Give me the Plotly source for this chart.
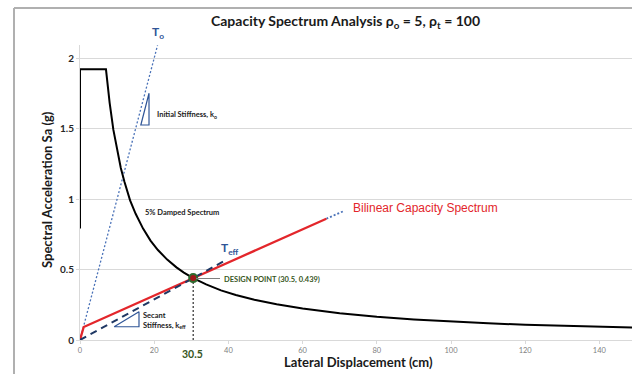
import plotly.graph_objects as go

# ---------------- data ----------------
spec_x = [0, 0, 7.0, 8, 9, 10, 11, 12, 13.5, 15, 17, 19, 21, 23.5, 26, 28, 30.5, 34, 38, 42,
          47, 53, 60, 70, 80, 90, 100, 110, 120, 130, 140, 150]
spec_y = [0.79, 1.92, 1.92, 1.68, 1.49, 1.34, 1.22, 1.12, 0.99, 0.895, 0.79, 0.705, 0.638, 0.57,
          0.515, 0.478, 0.439, 0.394, 0.352, 0.319, 0.285, 0.253, 0.224, 0.19, 0.165, 0.146,
          0.131, 0.118, 0.108, 0.1, 0.093, 0.087]

bil_x = [0, 1.0, 66.4]
bil_y = [0, 0.092, 0.86]
ext_x = [66.4, 71.3]
ext_y = [0.86, 0.917]

k0_x = [0, 20.9]
k0_y = [0, 2.09]

teff_x = [0, 39.3]
teff_y = [0, 0.566]

dp_x = 30.5
dp_y = 0.439

tri1_x = [18.6, 16.4, 18.6, 18.6]
tri1_y = [1.75, 1.525, 1.525, 1.75]
tri2_x = [9.2, 15.9, 15.9, 9.2]
tri2_y = [0.094, 0.201, 0.094, 0.094]

x_ticks = [0, 20, 40, 60, 80, 100, 120, 140]
y_ticks = [0, 0.5, 1, 1.5, 2]
y_tick_text = ["0", "0.5", "1", "1.5", "2"]

# ---------------- layout geometry ----------------
W, H = 632, 374
L, R, T, B = 80, 0, 45, 34
PW, PH = W - L - R, H - T - B
XMAX = PW / 3.71
YMAX = PH / 141.0


def px(xp):
    return (xp - L) / PW


def py(yp):
    return (H - B - yp) / PH


BLUE = "#2f5597"
DOT_BLUE = "#4a72b8"
NAVY = "#1f3864"
RED = "#e3262b"
GREEN = "#375623"
CAL = "Lato, 'Open Sans', sans-serif"

fig = go.Figure()

fig.add_trace(go.Scatter(x=k0_x, y=k0_y, mode="lines",
                         line=dict(color=DOT_BLUE, width=1.3, dash="2px,2px"), hoverinfo="skip"))
fig.add_trace(go.Scatter(x=ext_x, y=ext_y, mode="lines",
                         line=dict(color=DOT_BLUE, width=1.8, dash="2px,2px"), hoverinfo="skip"))
fig.add_trace(go.Scatter(x=bil_x, y=bil_y, mode="lines",
                         line=dict(color=RED, width=2.3), hoverinfo="skip"))
fig.add_trace(go.Scatter(x=teff_x, y=teff_y, mode="lines",
                         line=dict(color=NAVY, width=2, dash="7px,5px"), hoverinfo="skip"))
fig.add_trace(go.Scatter(x=spec_x, y=spec_y, mode="lines",
                         line=dict(color="black", width=2), hoverinfo="skip"))
fig.add_trace(go.Scatter(x=[dp_x, dp_x], y=[0, dp_y], mode="lines",
                         line=dict(color="black", width=1, dash="2px,2px"), hoverinfo="skip"))
fig.add_trace(go.Scatter(x=tri1_x, y=tri1_y, mode="lines",
                         line=dict(color=BLUE, width=1.2), hoverinfo="skip"))
fig.add_trace(go.Scatter(x=tri2_x, y=tri2_y, mode="lines",
                         line=dict(color=BLUE, width=1.2), hoverinfo="skip"))
fig.add_trace(go.Scatter(x=[dp_x], y=[dp_y], mode="markers",
                         marker=dict(size=8, color="#a01818",
                                     line=dict(color="#2e6b2e", width=2)),
                         hoverinfo="skip"))

ann = []


def add_text(text, xp, yp, size, color, family=CAL, xanchor="center", yanchor="middle",
             textangle=0, align="center"):
    ann.append(dict(text=text, x=px(xp), y=py(yp), xref="paper", yref="paper",
                    showarrow=False, xanchor=xanchor, yanchor=yanchor, align=align,
                    textangle=textangle, font=dict(size=size, color=color, family=family)))


add_text("<b>Capacity Spectrum Analysis ρ<sub>o</sub> = 5, ρ<sub>t</sub> = 100</b>",
         345, 22, 14, "#1a1a1a")
add_text("<b>Spectral Acceleration Sa (g)</b>", 47, 190, 13, "#1a1a1a", textangle=-90)
add_text("<b>Lateral Displacement (cm)</b>", 358, 362, 13, "#1a1a1a")
add_text("<b>T<sub>o</sub></b>", 158, 33, 12, BLUE)
add_text("<b>T<sub>eff</sub></b>", 230, 248, 12, BLUE)
add_text("Bilinear Capacity Spectrum", 351, 208, 12, RED,
         family="'Liberation Sans', Arial, sans-serif", xanchor="left")
add_text("<b>Initial Stiffness, k<sub>o</sub></b>", 155, 115, 7.5, "#1a1a1a", xanchor="left")
add_text("<b>5% Damped Spectrum</b>", 143, 212, 7.5, "#1a1a1a", xanchor="left")
add_text("<b>Secant<br>Stiffness, k<sub>eff</sub></b>", 141, 320, 7.5, "#1a1a1a",
         xanchor="left", align="left")
add_text("<b>DESIGN POINT (30.5, 0.439)</b>", 222, 279, 7.5, GREEN, xanchor="left")
add_text("<b>30.5</b>", 192, 354, 10.5, GREEN)

shapes = [
    # outer chart frame (top and left edges visible)
    dict(type="line", xref="paper", yref="paper", x0=px(14), x1=px(640), y0=py(8), y1=py(8),
         line=dict(color="#b0b0b0", width=2)),
    dict(type="line", xref="paper", yref="paper", x0=px(14), x1=px(14), y0=py(8), y1=py(380),
         line=dict(color="#b0b0b0", width=2)),
    # leader line for design point
    dict(type="line", xref="paper", yref="paper", x0=px(196), x1=px(220), y0=py(278.5),
         y1=py(278.5), line=dict(color="#7f7f7f", width=1)),
]

fig.update_layout(
    width=W, height=H,
    margin=dict(l=L, r=R, t=T, b=B, pad=0),
    paper_bgcolor="white", plot_bgcolor="white",
    showlegend=False,
    annotations=ann, shapes=shapes,
    xaxis=dict(range=[0, XMAX], tickvals=x_ticks, showgrid=False, zeroline=False,
               showline=True, linecolor="#d9d9d9", linewidth=1,
               ticks="outside", ticklen=3, tickcolor="#d9d9d9",
               tickfont=dict(size=7.5, color="#808080", family=CAL)),
    yaxis=dict(range=[0, YMAX], tickvals=y_ticks, ticktext=["<b>%s</b>" % t for t in y_tick_text],
               showgrid=True, gridcolor="#d9d9d9", gridwidth=1, zeroline=False,
               showline=True, linecolor="#d9d9d9", linewidth=1,
               ticks="outside", ticklen=3, tickcolor="#d9d9d9",
               tickfont=dict(size=10, color="#262626", family=CAL)),
)

fig.write_html("out.html")
